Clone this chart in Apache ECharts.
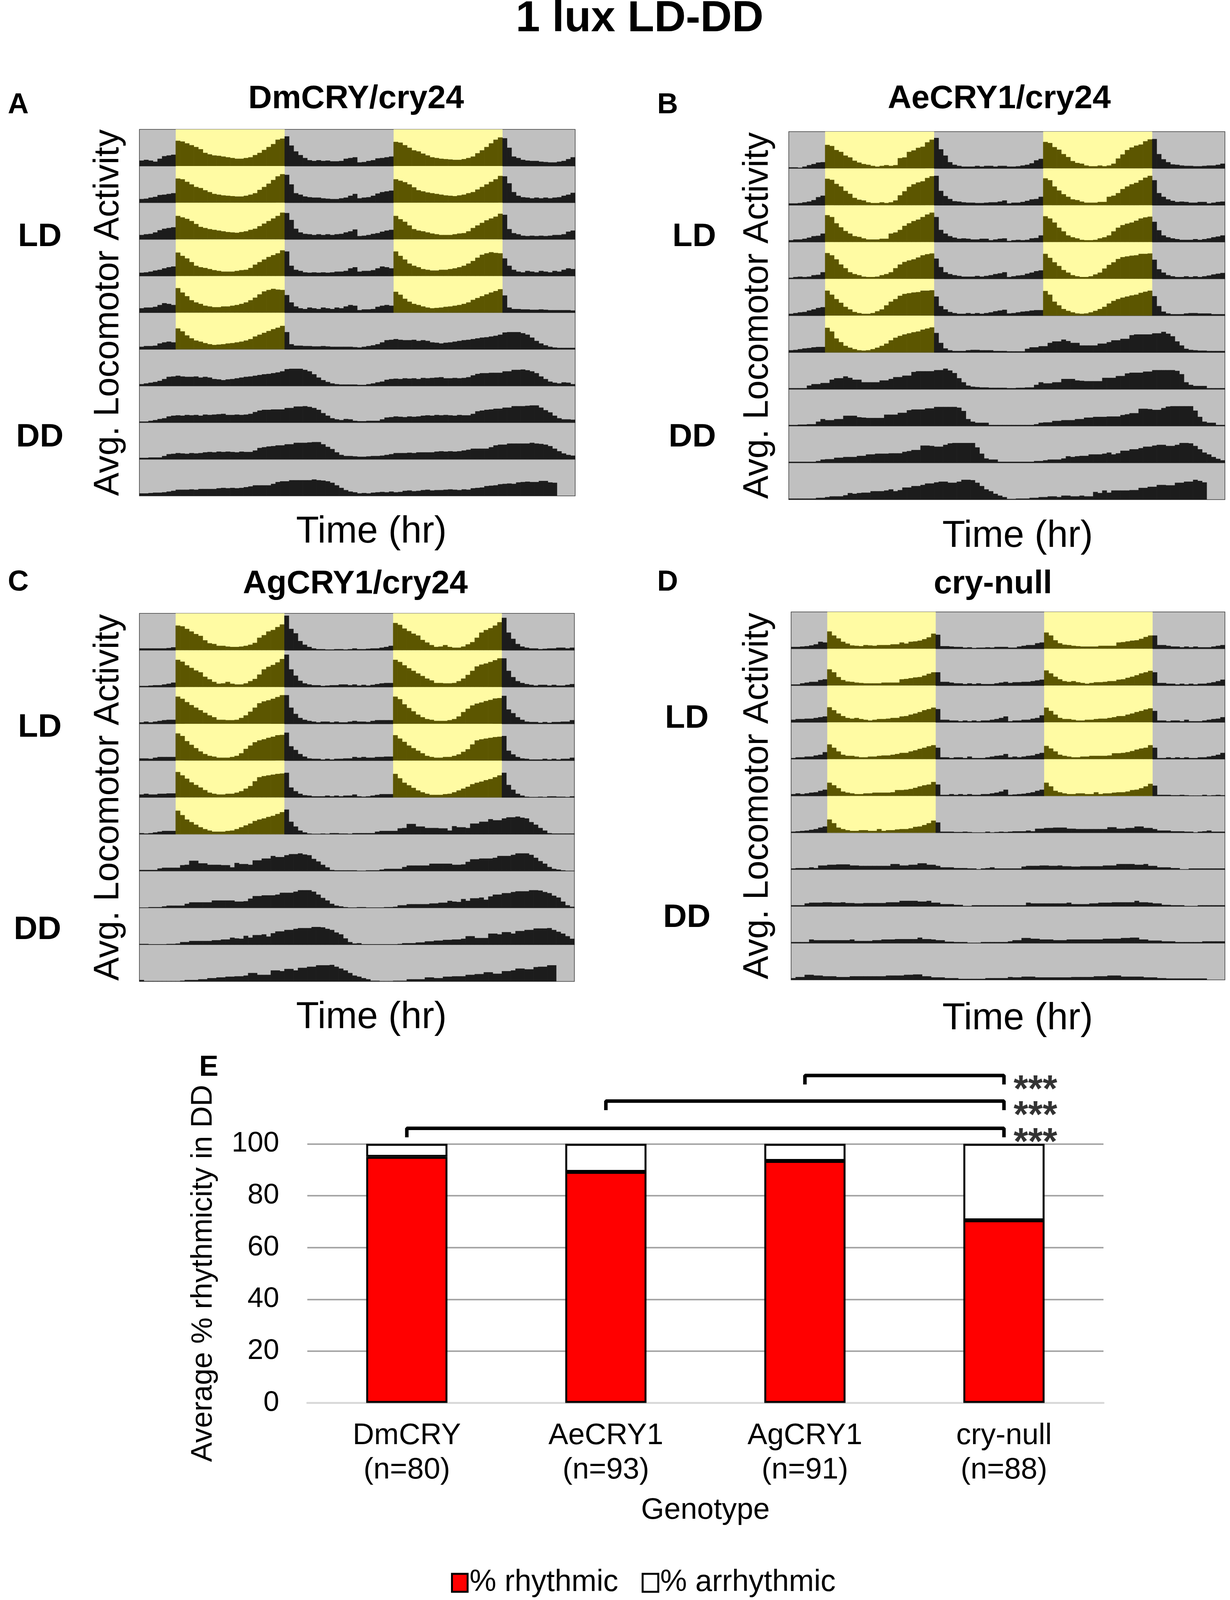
<!DOCTYPE html>
<html><head><meta charset="utf-8">
<script src="https://cdn.jsdelivr.net/npm/echarts/dist/echarts.min.js"></script>
<style>html,body{margin:0;padding:0;background:#fff;overflow:hidden}#c{width:3150px;height:4304px}</style>
</head><body><div id="c"></div>
<script>
// ---------- DATA: half-hour activity bins (48 per day, % of row height), 11 days per genotype ----------
// bins 0-7: late night, 8-31: lights on (LD days 1-6), 32-47: early night
const dmDays = [
[15,17,15,12,20,27,29,31, 69,67,62,57,52,46,36,32,29,28,26,24,22,20,20,22,24,30,36,44,52,60,72,75, 81,56,40,30,22,16,14,16,14,15,13,13,14,20,22,24],
[10,11,14,16,21,22,24,26, 66,64,57,50,43,40,34,29,24,22,20,19,18,17,17,19,22,26,35,43,52,62,72,78, 76,50,26,22,17,15,14,14,12,11,10,10,12,14,19,24],
[12,14,15,19,25,29,31,33, 64,60,56,50,42,34,31,28,26,24,22,20,19,18,20,22,26,29,36,43,50,57,64,73, 72,53,29,19,15,14,12,14,12,14,12,14,15,19,22,27],
[9,10,12,15,17,21,24,26, 64,55,48,38,28,24,22,19,16,14,12,12,12,14,16,17,22,31,38,45,52,57,62,70, 67,28,17,14,10,9,10,9,10,9,10,12,12,14,21,24],
[12,14,14,16,21,26,24,21, 67,55,45,34,28,24,19,17,15,15,17,17,19,21,24,28,34,41,50,58,62,65,63,62, 48,28,17,12,10,14,12,10,14,12,10,14,12,17,21,19],
[7,9,9,10,16,19,21,19, 57,49,38,30,24,21,17,14,12,13,14,16,17,19,21,24,28,35,40,45,50,55,59,64, 47,14,10,10,9,9,8,8,9,8,7,7,7,7,7,6],
[5,7,9,11,14,19,25,26, 28,26,25,25,26,23,25,23, 19,18,16,18,19,21,23,25, 26,28,30,32,33,35,37,40, 46,47,47,47,44,40,32,23, 16,11,7,5,4,4,4,4],
[3,3,5,7,10,12,17,19, 20,19,21,20,21,19,22,21, 22,23,24,21,21,22,21,22, 24,29,33,35,35,36,36,36, 40,40,44,44,45,43,40,35, 26,19,12,9,7,10,9,5],
[4,4,5,5,5,9,14,15, 17,16,15,17,16,17,19,20, 19,21,20,21,20,19,21,20, 20,24,31,33,35,36,38,38, 41,41,45,45,45,46,47,47, 41,34,28,19,12,9,9,8],
[7,7,8,9,9,10,12,14, 17,17,17,18,17,19,19,19, 19,21,22,21,22,21,22,24, 26,29,29,29,29,33,38,40, 40,43,43,43,43,43,45,43, 42,40,36,29,22,16,12,10],
[7,8,7,9,10,11,10,12, 10,11,14,15,13,14,16,17, 15,16,16,17,18,17,16,18, 17,21,22,23,27,28,29,32, 33,34,33,37,38,39,38,38, 41,41,37,36,null,null,null,null]
];
const aeDays = [
[3,3,2,5,9,12,16,17, 64,61,50,45,35,30,21,16,12,10,7,5,7,9,7,9,28,30,45,49,56,59,71,78, 83,52,35,17,10,7,5,5,5,7,5,7,7,5,7,7],
[5,5,6,8,10,14,22,26, 72,69,58,51,39,31,20,15,13,8,6,6,8,6,8,13,27,38,50,57,62,65,74,79, 80,39,25,17,11,10,8,7,7,6,6,7,8,8,10,13],
[5,7,7,9,12,16,17,23, 73,68,51,40,30,23,16,14,10,7,7,7,9,9,23,26,33,44,51,57,61,68,75,80, 68,33,23,16,12,9,10,9,7,7,9,9,5,7,9,10],
[3,5,6,5,6,10,11,18, 70,64,53,39,29,18,13,10,6,5,5,6,10,13,18,29,39,46,50,53,58,64,67,69, 55,32,18,13,10,8,6,6,6,8,6,8,10,13,15,18],
[5,7,9,10,14,17,21,23, 68,57,45,35,24,17,10,7,5,5,7,12,17,28,38,45,54,59,61,63,64,68,68,69, 52,26,17,10,7,5,5,7,5,7,5,7,9,12,14,16],
[6,7,9,11,12,14,15,15, 67,57,38,28,18,13,9,6,5,6,9,13,18,24,33,40,45,49,52,55,57,62,65,68, 53,26,11,6,4,4,4,6,7,7,6,6,6,4,4,4],
[3,3,3,3,10,14,14,17, 17,26,30,30,35,31,26,26, 19,19,19,19,24,24,28,33, 33,37,37,47,49,49,49,49, 52,52,56,51,44,30,19,10, 7,6,5,5,4,4,4,4],
[3,3,4,4,5,5,12,19, 16,16,19,19,28,28,28,24, 23,22,22,22,22,31,31,31, 36,36,43,45,45,45,48,48, 52,52,52,52,52,50,41,19, 12,9,9,9,3,3,3,3],
[3,3,3,3,3,3,5,9, 10,10,14,14,16,16,16,19, 19,23,23,25,25,25,26,26, 26,30,32,35,35,47,47,46, 44,44,49,53,54,54,54,54, 54,42,25,12,9,9,3,3],
[3,3,3,3,3,3,5,5, 7,9,9,9,12,18,16,18, 19,19,23,23,23,25,28,23, 26,33,33,37,37,40,44,44, 47,49,49,46,46,49,54,54, 53,46,37,28,23,16,11,7],
[2,2,3,3,3,5,5,7, 7,9,9,7,11,11,9,9, 11,9,9,21,18,25,19,25, 25,25,25,26,26,32,32,35, 35,40,40,39,39,46,46,49, 49,54,51,47,null,null,null,null]
];
const agDays = [
[5,5,5,5,5,5,6,8, 67,65,58,51,44,39,27,19,17,12,12,10,9,9,10,12,15,20,34,41,51,55,63,70, 94,58,46,25,15,9,5,3,3,2,2,3,3,2,3,5],
[3,3,4,5,5,7,9,12, 74,69,59,52,45,40,28,21,14,9,10,14,9,7,7,10,16,22,34,48,55,60,67,76, 88,48,31,17,10,7,5,5,3,4,5,5,7,7,5,7],
[4,6,4,6,8,10,11,11, 74,68,59,51,44,37,30,23,18,11,11,10,10,11,16,23,33,44,56,61,64,68,73,78, 78,44,27,16,11,8,6,4,6,6,4,6,4,4,6,8],
[6,6,5,8,10,10,10,10, 74,67,53,43,34,25,18,13,11,8,8,8,10,13,20,32,41,50,55,58,62,65,69,70, 76,39,29,18,11,6,5,5,3,5,3,5,5,6,6,10],
[8,10,8,8,10,10,11,11, 69,60,51,41,34,27,20,13,10,8,8,10,10,13,17,24,31,44,55,58,60,62,64,65, 67,27,17,10,6,5,3,3,3,5,3,5,3,5,5,8],
[3,2,3,5,7,9,9,9, 64,52,40,33,26,19,14,10,7,7,7,9,10,14,19,24,29,36,40,43,47,50,55,60, 67,34,21,10,5,2,1,1,2,1,3,3,2,2,1,3],
[3,3,3,3,7,9,9,9, 9,16,17,28,28,21,21,17, 17,17,16,16,10,22,19,19, 17,29,29,34,34,41,38,38, 43,46,46,48,45,43,33,26, 17,10,3,2,2,2,2,2],
[1,1,2,2,2,4,6,6, 6,6,11,15,15,15,15,15, 20,20,20,20,20,17,17,18, 25,32,32,34,34,34,36,41, 41,41,44,48,48,48,44,36, 27,20,11,6,4,2,1,1],
[2,2,1,1,1,1,2,2, 3,7,7,10,10,10,10,10, 12,12,14,14,19,17,16,24, 19,26,26,28,22,31,36,36, 40,40,43,45,45,45,48,48, 47,43,40,33,28,17,7,3],
[4,1,1,1,1,1,1,1, 1,2,4,4,4,6,6,9, 9,11,11,13,13,14,14,16, 23,23,18,18,18,30,30,28, 34,34,30,37,37,40,40,44, 44,44,45,40,35,30,23,16],
[13,9,6,2,2,1,1,1, 2,2,2,6,6,6,6,11, 11,9,9,13,13,14,14,14, 18,18,20,20,25,25,21,21, 28,28,30,35,35,33,33,39, 40,40,44,44,null,null,null,null]
];
const cnDays = [
[5,5,6,7,9,12,19,17, 47,36,28,19,14,9,8,7,10,9,8,10,10,10,12,12,17,14,19,20,22,26,31,41, 38,7,7,6,5,5,3,4,2,3,3,4,3,5,5,5],
[3,3,6,8,10,10,15,17, 44,36,23,15,11,10,8,7,6,6,6,6,8,8,8,8,17,18,20,22,23,27,32,36, 36,10,10,8,6,6,4,6,4,6,4,4,4,6,8,10],
[7,9,9,10,10,12,14,16, 41,33,24,17,12,10,12,9,7,5,7,9,9,10,12,12,16,17,21,24,28,33,36,40, 36,7,7,5,5,3,5,3,5,3,5,5,7,9,12,16],
[3,5,5,7,7,10,12,19, 40,31,21,12,9,9,7,5,5,7,7,9,10,10,12,14,17,17,21,24,28,31,35,38, 31,5,5,3,5,5,3,7,3,3,3,5,7,9,10,14],
[5,7,5,7,9,10,14,17, 36,29,21,12,9,7,5,5,7,7,9,9,9,9,10,16,16,17,19,22,26,29,31,38, 31,3,3,5,3,5,3,5,3,3,5,5,7,9,12,17],
[3,4,5,6,8,10,14,17, 36,26,14,10,7,5,5,7,7,5,5,10,5,7,7,9,10,10,12,16,17,21,26,33, 28,3,3,3,2,2,3,2,1,1,1,3,1,2,3,2],
[3,4,4,4,6,4,11,11, 13,13,14,14,14,11,11,10, 10,10,10,10,10,10,15,15, 11,11,13,13,17,17,13,13, 10,6,6,6,4,4,4,3, 3,1,3,4,6,3,3,3],
[3,3,3,8,10,10,10,11, 11,10,10,11,9,9,8,8, 9,9,9,9,9,11,11,11, 15,15,15,15,13,13,15,10, 10,6,6,6,4,4,1,1, 3,3,3,3,3,3,3,3],
[3,3,3,3,10,8,8,8, 8,8,8,8,8,10,6,6, 6,6,8,8,10,10,10,11, 11,11,11,11,15,11,11,10, 8,8,4,4,3,3,3,1, 1,1,3,3,3,3,3,3],
[5,8,8,14,14,12,12,10, 10,10,8,8,8,10,10,10, 10,10,10,10,10,12,12,12, 12,14,14,15,15,10,10,7, 7,7,5,5,5,3,3,3, 3,3,3,5,5,5,5,5],
[8,7,7,9,9,9,7,7, 7,7,7,7,7,7,8,8, 8,8,8,10,10,10,12,12, 12,9,9,9,9,9,7,7, 7,5,5,4,4,4,4,4, 4,4,4,4,null,null,null,null]
];
const LD_DAYS = 6, LIGHT_ON = 8, LIGHT_OFF = 32, BINS_PER_DAY = 48;

// Panel E
const categories = ['DmCRY','AeCRY1','AgCRY1','cry-null'];
const nLabels = ['(n=80)','(n=93)','(n=91)','(n=88)'];
const rhythmic = [95, 89.2, 93.4, 70.5];
const arrhythmic = [5, 10.8, 6.6, 29.5];
const comparisons = [[0,3,'***'],[1,3,'***'],[2,3,'***']];
const yTicks = [0,20,40,60,80,100];

// ---------- LAYOUT (fit the 4304-px-tall figure into the visible viewport) ----------
const W = 3150, H0 = 4304;
const H = Math.min(H0, window.innerHeight || H0);
const SY = H / H0;
const Y = v => v * SY;
const cEl = document.getElementById('c');
cEl.style.height = H + 'px';

const FONT = "'Liberation Sans', Arial, Helvetica, sans-serif";
const OLIVE='#5c5600', BLACK='#1c1c1c', YEL='#fffba3', GRAY='#c0c0c0';

const panels = [
 {letter:'A', title:'DmCRY/cry24', days:dmDays, box:[357,348,1473,1334], letterPos:[20,283], titlePos:[912,267], avgX:278, ld:[102,638], dd:[102,1177], time:[951,1432]},
 {letter:'B', title:'AeCRY1/cry24', days:aeDays, box:[2020,354,3137,1344], letterPos:[1683,283], titlePos:[2559,267], avgX:1941, ld:[1778,638], dd:[1773,1177], time:[2606,1443]},
 {letter:'C', title:'AgCRY1/cry24', days:agDays, box:[357,1650,1471,2640], letterPos:[20,1567], titlePos:[910,1572], avgX:278, ld:[102,1957], dd:[96,2502], time:[951,2738]},
 {letter:'D', title:'cry-null', days:cnDays, box:[2026,1646,3137,2636], letterPos:[1683,1567], titlePos:[2543,1572], avgX:1941, ld:[1759,1933], dd:[1759,2469], time:[2606,2741]}
];

const grids=[], xAxes=[], yAxes=[], series=[], graphics=[];
function txt(x,y,text,size,bold,align,extra){
  return Object.assign({type:'text', x:x, y:Y(y), silent:true, z:10,
    style:{text:text, fill:'#000', font:(bold?'bold ':'')+size+'px '+FONT, textAlign:align||'center', textVerticalAlign:'middle', verticalAlign:'middle'}}, extra||{});
}

panels.forEach(p=>{
  const [x0,y0,x1,y1] = p.box; const rh = Y(y1-y0)/10; const nb = 2*BINS_PER_DAY;
  const binW = (x1-x0)/nb;
  for(let r=0;r<10;r++){
    const gi = grids.length;
    grids.push({left:x0, top:Y(y0)+r*rh, width:x1-x0, height:rh, show:true, backgroundColor:GRAY, borderColor:'#3a3a3a', borderWidth:1.5});
    const xa = xAxes.length;
    xAxes.push({type:'value', gridIndex:gi, min:0, max:nb, show:false});
    xAxes.push({type:'value', gridIndex:gi, min:0, max:nb, show:false});
    const ya = yAxes.length;
    yAxes.push({type:'value', gridIndex:gi, min:0, max:100, show:false});
    const bg=[];
    [0,1].forEach(h=>{ if(r+h < LD_DAYS) bg.push([h*BINS_PER_DAY + (LIGHT_ON+LIGHT_OFF)/2, 100]); });
    if(bg.length) series.push({type:'bar', xAxisIndex:xa, yAxisIndex:ya, data:bg, barWidth:(LIGHT_OFF-LIGHT_ON)*binW,
      itemStyle:{color:YEL}, silent:true, z:2});
    const act=[];
    for(let b=0;b<nb;b++){
      const d = r + (b>=BINS_PER_DAY?1:0), k = b%BINS_PER_DAY;
      const light = d < LD_DAYS && k>=LIGHT_ON && k<LIGHT_OFF;
      const v = p.days[d][k];
      if(v==null) continue;
      act.push({value:[b+0.5, v], itemStyle:{color: light?OLIVE:BLACK}});
    }
    series.push({type:'bar', xAxisIndex:xa+1, yAxisIndex:ya, data:act, barWidth:binW+0.6, silent:true, z:3});
  }
  graphics.push(txt(p.letterPos[0], p.letterPos[1], p.letter, 74, true, 'left'));
  graphics.push(txt(p.titlePos[0], p.titlePos[1], p.title, 84, true));
  graphics.push(txt(p.avgX, (y0+y1)/2, 'Avg. Locomotor Activity', Math.round(95*SY), false, 'center', {rotation:Math.PI/2}));
  graphics.push(txt(p.ld[0], p.ld[1], 'LD', 84, true));
  graphics.push(txt(p.dd[0], p.dd[1], 'DD', 84, true));
  graphics.push(txt(p.time[0], p.time[1], 'Time (hr)', 96, false));
});

graphics.push(txt(1638, 52, '1 lux LD-DD', 112, true));
graphics.push(txt(510, 2872, 'E', 74, true, 'left'));

// Panel E grid
const gE = grids.length, xE = xAxes.length, yE = yAxes.length;
grids.push({left:787, top:Y(3077), width:2039, height:Y(697)});
xAxes.push({type:'category', gridIndex:gE, data:categories,
  axisTick:{show:false}, axisLine:{show:true, lineStyle:{color:'#d9d9d9', width:5}},
  axisLabel:{interval:0, color:'#000', fontSize:76, lineHeight:Math.round(92*SY), fontFamily:FONT, margin:Y(42),
    formatter:(v,i)=>v+'\n'+nLabels[i]},
  name:'Genotype', nameLocation:'middle', nameGap:Y(250), nameTextStyle:{color:'#000', fontSize:76, fontFamily:FONT}});
yAxes.push({type:'value', gridIndex:gE, min:yTicks[0], max:yTicks[yTicks.length-1], interval:20,
  axisLine:{show:false}, axisTick:{show:false},
  axisLabel:{color:'#000', fontSize:73, fontFamily:FONT, margin:72},
  splitLine:{show:true, lineStyle:{color:'#a6a6a6', width:4}},
  name:'Average % rhythmicity in DD', nameLocation:'middle', nameRotate:90, nameGap:228,
  nameTextStyle:{color:'#000', fontSize:Math.round(80*SY), fontFamily:FONT}});
series.push({name:'% rhythmic', type:'bar', stack:'r', xAxisIndex:xE, yAxisIndex:yE, data:rhythmic, barWidth:208,
  itemStyle:{color:'#ff0000', borderColor:'#000', borderWidth:5}, z:4});
series.push({name:'% arrhythmic', type:'bar', stack:'r', xAxisIndex:xE, yAxisIndex:yE, data:arrhythmic, barWidth:208,
  itemStyle:{color:'#ffffff', borderColor:'#000', borderWidth:5}, z:4});

const bracketLevels = [106, 116.5, 126.4];
const tickDrop = 2.8;
comparisons.forEach((c,i)=>{
  const lvl = bracketLevels[i];
  series.push({type:'line', xAxisIndex:xE, yAxisIndex:yE, clip:false, symbol:'none', silent:true, z:6,
    lineStyle:{color:'#000', width:9, cap:'square'}, data:[[c[0],lvl-tickDrop],[c[0],lvl],[c[1],lvl],[c[1],lvl-tickDrop]]});
  series.push({type:'scatter', xAxisIndex:xE, yAxisIndex:yE, clip:false, silent:true, z:6, symbolSize:1,
    itemStyle:{color:'rgba(0,0,0,0)'},
    label:{show:true, formatter:c[2], position:'right', distance:0, offset:[24,Y(22)], color:'#000', fontSize:96, fontWeight:'bold', fontFamily:FONT},
    data:[[c[1], lvl-tickDrop]]});
});

const chart = echarts.init(cEl, null, {renderer:'canvas', width:W, height:H});
chart.setOption({
  animation:false,
  backgroundColor:'#ffffff',
  textStyle:{fontFamily:FONT},
  grid:grids, xAxis:xAxes, yAxis:yAxes, series:series,
  legend:{data:['% rhythmic','% arrhythmic'], left:1150, top:Y(4254)-40, itemWidth:40, itemHeight:46, itemGap:60,
    itemStyle:{borderColor:'#000', borderWidth:5},
    textStyle:{fontSize:77, fontFamily:FONT, color:'#000'}, icon:'rect', selectedMode:false},
  graphic:graphics
});
</script></body></html>
